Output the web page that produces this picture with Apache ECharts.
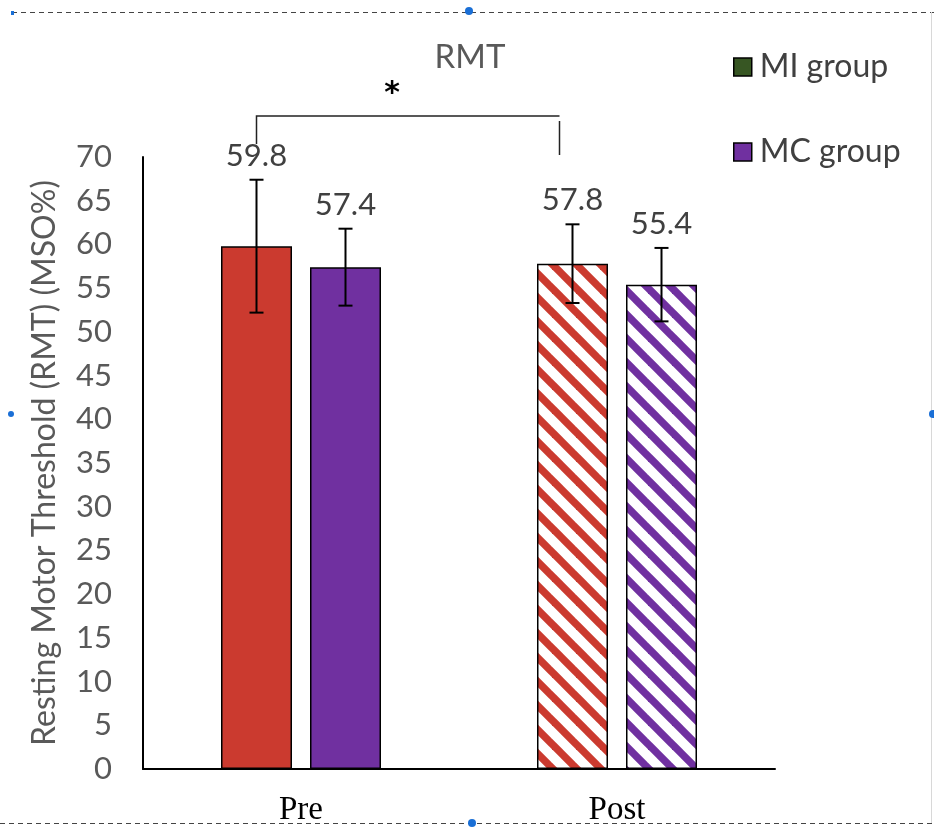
<!DOCTYPE html>
<html>
<head>
<meta charset="utf-8">
<script src="https://cdn.jsdelivr.net/npm/echarts@6/dist/echarts.min.js"></script>
<style>
  html, body { margin: 0; padding: 0; background: #fff; }
  #chart { width: 934px; height: 827px; }
</style>
</head>
<body>
<div id="chart"></div>
<script>
// Time points and group values (resting motor threshold, % of max stimulator output)
const phases = ['Pre', 'Post'];
const miMeans = [59.8, 57.8];
const miErrors = [7.6, 4.5];
const mcMeans = [57.4, 55.4];
const mcErrors = [4.4, 4.2];
const yTicks = { min: 0, max: 70, step: 5 };

const RED = '#CB3A2F';
const PURPLE = '#7030A0';
const GREEN = '#375623';
const BAR_W = 71;
const BAR_GAP = 18;

// Diagonal stripe fill for the post-session bars
function stripes(color) {
  const P = 24;
  const c = document.createElement('canvas');
  c.width = P; c.height = P;
  const g = c.getContext('2d');
  g.fillStyle = '#fff';
  g.fillRect(0, 0, P, P);
  g.strokeStyle = color;
  g.lineWidth = 7.5;
  for (const k of [-1, 0, 1]) {
    g.beginPath();
    g.moveTo(k * P - P, -P);
    g.lineTo(k * P + 2 * P, 2 * P);
    g.stroke();
  }
  return { image: c, repeat: 'repeat' };
}

function barData(means, color) {
  return means.map((v, i) => ({
    value: v,
    itemStyle: { color: i === 0 ? color : stripes(color) }
  }));
}

// Error bars with caps plus the value label above each one
function errorSeries(name, means, errors, offset) {
  return {
    type: 'custom',
    name: name + ' err',
    z: 5,
    data: means.map((m, i) => [i, m, errors[i]]),
    renderItem: function (params, api) {
      const x = api.value(0), m = api.value(1), e = api.value(2);
      const hi = api.coord([x, m + e]);
      const lo = api.coord([x, m - e]);
      const cx = hi[0] + offset;
      const cap = 7;
      const st = { stroke: '#000', lineWidth: 2 };
      return {
        type: 'group',
        children: [
          { type: 'line', shape: { x1: cx, y1: hi[1], x2: cx, y2: lo[1] }, style: st },
          { type: 'line', shape: { x1: cx - cap, y1: hi[1], x2: cx + cap, y2: hi[1] }, style: st },
          { type: 'line', shape: { x1: cx - cap, y1: lo[1], x2: cx + cap, y2: lo[1] }, style: st },
          {
            type: 'text',
            style: {
              x: cx, y: hi[1] - 24,
              text: m.toFixed(1),
              fill: '#404040',
              font: '31px Lato',
              textAlign: 'center',
              textVerticalAlign: 'middle'
            }
          }
        ]
      };
    }
  };
}

const half = (BAR_W + BAR_GAP) / 2;

const chart = echarts.init(document.getElementById('chart'));
chart.setOption({
  animation: false,
  backgroundColor: '#fff',
  title: {
    text: 'RMT',
    left: 465, top: 36,
    textAlign: 'center',
    textStyle: { fontFamily: 'Lato', fontSize: 33, fontWeight: 'normal', color: '#595959' }
  },
  legend: {
    orient: 'vertical',
    left: 728, top: 46,
    itemGap: 53,
    itemWidth: 18, itemHeight: 18,
    icon: 'rect',
    textStyle: { fontFamily: 'Lato', fontSize: 32, color: '#404040', padding: [0, 0, 0, 3] },
    data: [
      { name: 'MI group', itemStyle: { color: GREEN, borderColor: '#000', borderWidth: 1.5 } },
      { name: 'MC group', itemStyle: { color: PURPLE, borderColor: '#000', borderWidth: 1.5 } }
    ]
  },
  grid: { left: 143, top: 157, right: 159, bottom: 58, containLabel: false },
  xAxis: {
    type: 'category',
    data: phases,
    axisLine: { lineStyle: { color: '#000', width: 2 } },
    axisTick: { show: false },
    axisLabel: { fontFamily: 'Liberation Serif', fontSize: 33, color: '#000', margin: 25 }
  },
  yAxis: {
    type: 'value',
    min: yTicks.min, max: yTicks.max, interval: yTicks.step,
    name: 'Resting Motor Threshold (RMT) (MSO%)',
    nameLocation: 'middle',
    nameGap: 82,
    nameTextStyle: { fontFamily: 'Lato', fontSize: 32, color: '#595959' },
    axisLine: { show: true, lineStyle: { color: '#000', width: 2 } },
    axisTick: { show: false },
    splitLine: { show: false },
    axisLabel: { fontFamily: 'Lato', fontSize: 31, color: '#595959', margin: 31 }
  },
  series: [
    {
      type: 'bar', name: 'MI group',
      barWidth: BAR_W, barGap: (BAR_GAP / BAR_W * 100) + '%',
      itemStyle: { color: RED, borderColor: '#000', borderWidth: 1.5 },
      data: barData(miMeans, RED)
    },
    {
      type: 'bar', name: 'MC group',
      barWidth: BAR_W,
      itemStyle: { color: PURPLE, borderColor: '#000', borderWidth: 1.5 },
      data: barData(mcMeans, PURPLE)
    },
    errorSeries('MI group', miMeans, miErrors, -half),
    errorSeries('MC group', mcMeans, mcErrors, half)
  ]
});

// Significance bracket between Pre and Post for the MI group, and the frame around the figure
const preX = chart.convertToPixel({ xAxisIndex: 0 }, 'Pre') - half;
const postX = chart.convertToPixel({ xAxisIndex: 0 }, 'Post') - half - 13;
const dash = { stroke: '#444', lineWidth: 1, lineDash: [5, 4] };
const handle = { fill: '#1a6fd6' };
chart.setOption({
  graphic: [
    { type: 'polyline', shape: { points: [[preX, 144], [preX, 116], [postX, 116]] }, style: { stroke: '#222', lineWidth: 1.5, fill: null } },
    { type: 'line', shape: { x1: postX, y1: 121, x2: postX, y2: 155 }, style: { stroke: '#222', lineWidth: 1.5 } },
    { type: 'text', style: { x: (preX + postX) / 2 - 16, y: 94, text: '*', font: 'bold 30px "DejaVu Sans"', fill: '#000', textAlign: 'center', textVerticalAlign: 'middle' } },
    { type: 'line', shape: { x1: 12, y1: 12.5, x2: 934, y2: 12.5 }, style: dash },
    { type: 'line', shape: { x1: 0, y1: 823.5, x2: 934, y2: 823.5 }, style: dash },
    { type: 'line', shape: { x1: 931.5, y1: 12, x2: 931.5, y2: 823 }, style: { stroke: '#d8d8d8', lineWidth: 1 } },
    { type: 'circle', shape: { cx: 469, cy: 11, r: 4 }, style: handle },
    { type: 'circle', shape: { cx: 472, cy: 823, r: 4 }, style: handle },
    { type: 'circle', shape: { cx: 11, cy: 414, r: 3 }, style: handle },
    { type: 'circle', shape: { cx: 933, cy: 414, r: 4 }, style: handle },
    { type: 'rect', shape: { x: 11, y: 11, width: 3, height: 4 }, style: handle }
  ]
});
</script>
</body>
</html>
